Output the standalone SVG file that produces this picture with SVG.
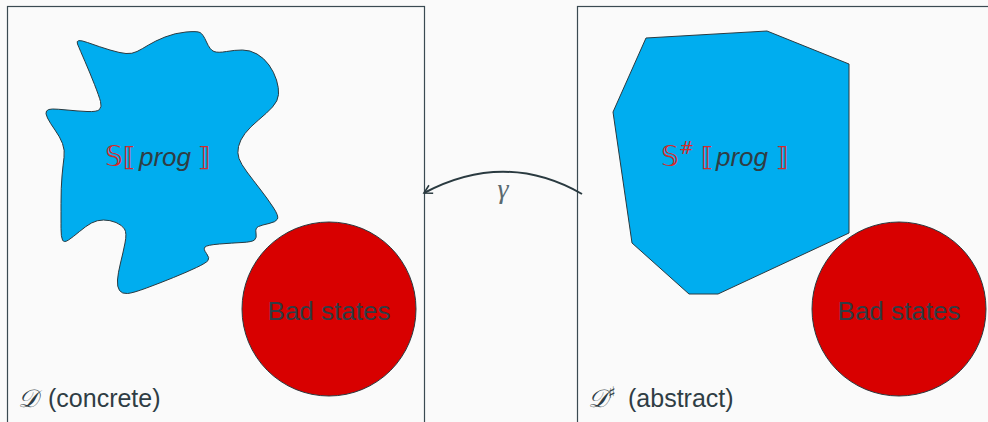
<svg xmlns="http://www.w3.org/2000/svg" width="988" height="422" viewBox="0 0 988 422">
<defs>
<style>
.frame{fill:#fafafa;stroke:#3a4a52;stroke-width:1.2}
.blue{fill:#00adef;stroke:#2a3a40;stroke-width:1}
.bad{fill:#d80000;stroke:#2a3a40;stroke-width:1}
.t{font-family:"Liberation Sans","DejaVu Sans",sans-serif;fill:#2f3d44}
.red{fill:#d42a2a}
.math{font-family:"DejaVu Sans","Liberation Sans",sans-serif}
.it{font-style:italic}
.conn{fill:none;stroke:#2a3a40;stroke-width:2}
</style>
<marker id="arr" markerWidth="12" markerHeight="12" refX="0" refY="0" viewBox="-10 -6 12 12" orient="auto" markerUnits="userSpaceOnUse">
<path d="M-8,-4.5 L0,0 L-8,4.5" fill="none" stroke="#2a3a40" stroke-width="1.6"/>
</marker>
</defs>
<rect width="988" height="422" fill="#fafafa"/>
<g id="concrete-domain">
<rect class="frame" x="7.5" y="6.5" width="417" height="430"/>
<text class="t" x="18" y="407" font-size="25"><tspan class="math it">𝒟</tspan><tspan x="48">(concrete)</tspan></text>
</g>
<g id="abstract-domain">
<rect class="frame" x="577.5" y="6.5" width="430" height="430"/>
<text class="t" x="588" y="407" font-size="25"><tspan class="math it">𝒟</tspan><tspan class="math" x="608" y="398" font-size="16">♯</tspan><tspan x="628" y="407">(abstract)</tspan></text>
</g>
<g id="concrete-semantics">
<path class="blue" d="M77.5,44 Q75,38 87.5,42.5 Q100,47 110,50 Q120,53 126,53.5 Q132,54 137,51.5 Q142,49 148.5,45 Q155,41 165,37 Q175,33 186,32 Q197,31 200,32.5 Q203,34 206.5,42 Q210,50 214,51.5 Q218,53 226.5,51.5 Q235,50 242.5,50 Q250,50 257,54 Q264,58 269,65 Q274,72 276.5,80 Q279,88 278.5,94.5 Q278,101 272.5,107 Q267,113 258.5,120 Q250,127 245,133.5 Q240,140 238.5,146.5 Q237,153 239,158.5 Q241,164 247,172 Q253,180 260,189 Q267,198 273,207 Q279,216 277.5,219 Q276,222 269,223.5 Q262,225 258.5,226.5 Q255,228 256,233 Q257,238 254.5,240 Q252,242 242,242.5 Q232,243 219.5,244 Q207,245 205,247 Q203,249 206.5,253.5 Q210,258 208,260.5 Q206,263 196.5,267.5 Q187,272 173.5,277.5 Q160,283 146.5,288 Q133,293 127.5,293.5 Q122,294 119.5,290.5 Q117,287 117.5,280 Q118,273 120.5,263 Q123,253 125,243 Q127,233 124.5,229 Q122,225 116,222.5 Q110,220 103.5,220 Q97,220 91.5,223 Q86,226 79.5,231.5 Q73,237 68.5,240 Q64,243 62.5,240 Q61,237 61,228.5 Q61,220 61,203.5 Q61,187 62,176 Q63,165 64,157.5 Q65,150 62.5,143.5 Q60,137 55,130 Q50,123 47.5,118 Q45,113 46.5,111 Q48,109 52.5,109 Q57,109 67,110 Q77,111 87,111.5 Q97,112 99.5,109.5 Q102,107 100.5,101.5 Q99,96 94.5,84.5 Q90,73 85,61.5 Q80,50 77.5,44 Z"/>
<text class="t" y="166" font-size="26"><tspan class="math red" x="105" font-size="28">𝕊</tspan><tspan class="math red" x="123">⟦</tspan><tspan class="it" x="139">prog</tspan><tspan class="math red" x="198">⟧</tspan></text>
</g>
<g id="abstract-semantics">
<polygon class="blue" points="646,38 767,31 849,64 849,233 718,294 689,294 632,243 613,112"/>
<text class="t" y="166" font-size="26"><tspan class="math red" x="661" font-size="28">𝕊</tspan><tspan class="math red" x="679" y="154" font-size="18">#</tspan><tspan class="math red" x="701" y="166">⟦</tspan><tspan class="it" x="716">prog</tspan><tspan class="math red" x="776">⟧</tspan></text>
</g>
<g id="bad-concrete">
<circle class="bad" cx="329" cy="309" r="87"/>
<text class="t" x="329" y="320" font-size="26" text-anchor="middle">Bad states</text>
</g>
<g id="bad-abstract">
<circle class="bad" cx="899" cy="309" r="87"/>
<text class="t" x="899" y="320" font-size="26" text-anchor="middle">Bad states</text>
</g>
<g id="connectors">
<path class="conn" d="M582,194 Q505,150 424,193" marker-end="url(#arr)"/>
<text x="503" y="198" font-family="Liberation Serif, serif" font-style="italic" font-size="28" fill="#5a6a70" text-anchor="middle">γ</text>
</g>
</svg>
